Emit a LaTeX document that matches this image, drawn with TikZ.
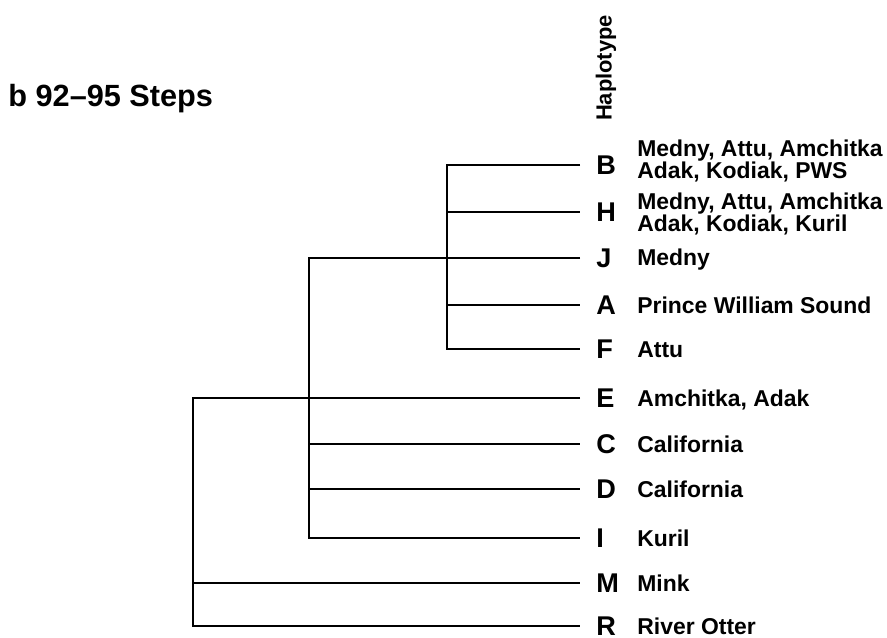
\documentclass[tikz,border=0pt]{standalone}
\usepackage{fontspec}
\setmainfont{Liberation Sans}
\usetikzlibrary{positioning,calc}

\begin{document}
\begin{tikzpicture}[x=0.5bp, y=-0.5bp,
    branch/.style={line width=1.35bp},
    hap/.style={anchor=west, inner xsep=8bp, inner ysep=0pt,
                font=\fontsize{13.6}{13.6}\selectfont\bfseries},
    site/.style={anchor=base west, inner sep=0pt, align=left,
                 font=\fontsize{11.5}{11}\selectfont\bfseries}]
  \useasboundingbox (0,0) rectangle (887,638);
  \def\tipx{580}

  \node[anchor=base west, inner sep=0pt, font=\fontsize{15.4}{15.4}\selectfont\bfseries]
      (title) at (8,107) {b 92--95 Steps};
  \node[rotate=90, inner sep=0pt, font=\fontsize{11}{11}\selectfont\bfseries]
      (head) at (606,68) {Haplotype};

  % haplotype letters at the tips
  \foreach \h/\y in {B/165, H/212, J/258, A/305, F/349, E/398,
                     C/444, D/489, I/538, M/583, R/626}
    \node[hap] (h\h) at (\tipx,\y) {\h};

  % localities
  \node[site, anchor=west] (tB) at ($(hB.west)+(57,-4)$)
      {Medny, Attu, Amchitka\\Adak, Kodiak, PWS};
  \node[site, anchor=west] (tH) at ($(hH.west)+(57,2)$)
      {Medny, Attu, Amchitka\\Adak, Kodiak, Kuril};
  \node[site] (tJ) at ($(hJ.west)+(57,8)$) {Medny};
  \node[site] (tA) at ($(hA.west)+(57,8)$) {Prince William Sound};
  \node[site] (tF) at ($(hF.west)+(57,8)$) {Attu};
  \node[site] (tE) at ($(hE.west)+(57,8)$) {Amchitka, Adak};
  \node[site] (tC) at ($(hC.west)+(57,8)$) {California};
  \node[site] (tD) at ($(hD.west)+(57,8)$) {California};
  \node[site] (tI) at ($(hI.west)+(57,8)$) {Kuril};
  \node[site] (tM) at ($(hM.west)+(57,8)$) {Mink};
  \node[site] (tR) at ($(hR.west)+(57,8)$) {River Otter};

  % tree
  \coordinate (kBF) at (447,0);
  \coordinate (kJI) at (309,0);
  \coordinate (root) at (193,0);

  \draw[branch] (hB.west) -| (kBF |- hF.west) -- (hF.west);
  \draw[branch] (kBF |- hH.west) -- (hH.west);
  \draw[branch] (kBF |- hA.west) -- (hA.west);

  \draw[branch] (hJ.west) -| (kJI |- hI.west) -- (hI.west);
  \draw[branch] (kJI |- hC.west) -- (hC.west);
  \draw[branch] (kJI |- hD.west) -- (hD.west);

  \draw[branch] (hE.west) -| (root |- hR.west) -- (hR.west);
  \draw[branch] (root |- hM.west) -- (hM.west);
\end{tikzpicture}
\end{document}
